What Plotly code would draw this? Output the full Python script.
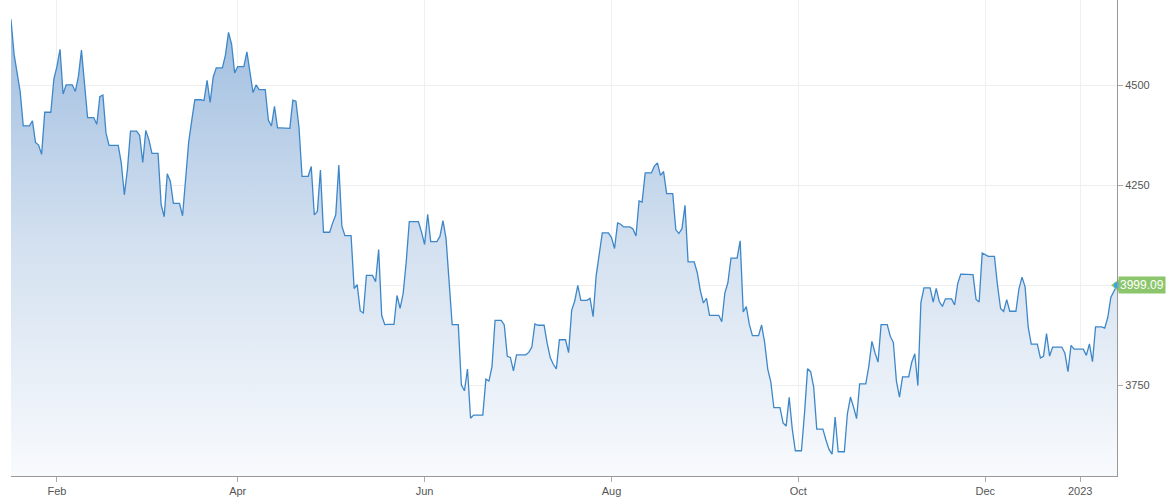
import pandas as pd
import plotly.graph_objects as go

# Trading-day closes
trade_dates = [
    "2022-01-14", "2022-01-18", "2022-01-19", "2022-01-20", "2022-01-21", "2022-01-24", "2022-01-25", "2022-01-26", "2022-01-27", "2022-01-28", "2022-01-31",
    "2022-02-01", "2022-02-02", "2022-02-03", "2022-02-04", "2022-02-07", "2022-02-08", "2022-02-09", "2022-02-10", "2022-02-11", "2022-02-14", "2022-02-15", "2022-02-16", "2022-02-17", "2022-02-18", "2022-02-22", "2022-02-23", "2022-02-24", "2022-02-25", "2022-02-28",
    "2022-03-01", "2022-03-02", "2022-03-03", "2022-03-04", "2022-03-07", "2022-03-08", "2022-03-09", "2022-03-10", "2022-03-11", "2022-03-14", "2022-03-15", "2022-03-16", "2022-03-17", "2022-03-18", "2022-03-21", "2022-03-22", "2022-03-23", "2022-03-24", "2022-03-25", "2022-03-28", "2022-03-29", "2022-03-30", "2022-03-31",
    "2022-04-01", "2022-04-04", "2022-04-05", "2022-04-06", "2022-04-07", "2022-04-08", "2022-04-11", "2022-04-12", "2022-04-13", "2022-04-14", "2022-04-18", "2022-04-19", "2022-04-20", "2022-04-21", "2022-04-22", "2022-04-25", "2022-04-26", "2022-04-27", "2022-04-28", "2022-04-29",
    "2022-05-02", "2022-05-03", "2022-05-04", "2022-05-05", "2022-05-06", "2022-05-09", "2022-05-10", "2022-05-11", "2022-05-12", "2022-05-13", "2022-05-16", "2022-05-17", "2022-05-18", "2022-05-19", "2022-05-20", "2022-05-23", "2022-05-24", "2022-05-25", "2022-05-26", "2022-05-27", "2022-05-31",
    "2022-06-01", "2022-06-02", "2022-06-03", "2022-06-06", "2022-06-07", "2022-06-08", "2022-06-09", "2022-06-10", "2022-06-13", "2022-06-14", "2022-06-15", "2022-06-16", "2022-06-17", "2022-06-21", "2022-06-22", "2022-06-23", "2022-06-24", "2022-06-27", "2022-06-28", "2022-06-29", "2022-06-30",
    "2022-07-01", "2022-07-05", "2022-07-06", "2022-07-07", "2022-07-08", "2022-07-11", "2022-07-12", "2022-07-13", "2022-07-14", "2022-07-15", "2022-07-18", "2022-07-19", "2022-07-20", "2022-07-21", "2022-07-22", "2022-07-25", "2022-07-26", "2022-07-27", "2022-07-28", "2022-07-29",
    "2022-08-01", "2022-08-02", "2022-08-03", "2022-08-04", "2022-08-05", "2022-08-08", "2022-08-09", "2022-08-10", "2022-08-11", "2022-08-12", "2022-08-15", "2022-08-16", "2022-08-17", "2022-08-18", "2022-08-19", "2022-08-22", "2022-08-23", "2022-08-24", "2022-08-25", "2022-08-26", "2022-08-29", "2022-08-30", "2022-08-31",
    "2022-09-01", "2022-09-02", "2022-09-06", "2022-09-07", "2022-09-08", "2022-09-09", "2022-09-12", "2022-09-13", "2022-09-14", "2022-09-15", "2022-09-16", "2022-09-19", "2022-09-20", "2022-09-21", "2022-09-22", "2022-09-23", "2022-09-26", "2022-09-27", "2022-09-28", "2022-09-29", "2022-09-30",
    "2022-10-03", "2022-10-04", "2022-10-05", "2022-10-06", "2022-10-07", "2022-10-10", "2022-10-11", "2022-10-12", "2022-10-13", "2022-10-14", "2022-10-17", "2022-10-18", "2022-10-19", "2022-10-20", "2022-10-21", "2022-10-24", "2022-10-25", "2022-10-26", "2022-10-27", "2022-10-28", "2022-10-31",
    "2022-11-01", "2022-11-02", "2022-11-03", "2022-11-04", "2022-11-07", "2022-11-08", "2022-11-09", "2022-11-10", "2022-11-11", "2022-11-14", "2022-11-15", "2022-11-16", "2022-11-17", "2022-11-18", "2022-11-21", "2022-11-22", "2022-11-23", "2022-11-25", "2022-11-28", "2022-11-29", "2022-11-30",
    "2022-12-01", "2022-12-02", "2022-12-05", "2022-12-06", "2022-12-07", "2022-12-08", "2022-12-09", "2022-12-12", "2022-12-13", "2022-12-14", "2022-12-15", "2022-12-16", "2022-12-19", "2022-12-20", "2022-12-21", "2022-12-22", "2022-12-23", "2022-12-27", "2022-12-28", "2022-12-29", "2022-12-30",
    "2023-01-03", "2023-01-04", "2023-01-05", "2023-01-06", "2023-01-09", "2023-01-10", "2023-01-11", "2023-01-12", "2023-01-13",
]
closes = [
    4662.85, 4577.11, 4532.76, 4482.73, 4397.94, 4410.13, 4356.45, 4349.93, 4326.51, 4431.85, 4515.55,
    4546.54, 4589.38, 4477.44, 4500.53, 4483.87, 4521.54, 4587.18, 4504.08, 4418.64, 4401.67, 4471.07, 4475.01, 4380.26, 4348.87, 4304.76, 4225.50, 4288.70, 4384.65, 4373.94,
    4306.26, 4386.54, 4363.49, 4328.87, 4201.09, 4170.70, 4277.88, 4259.52, 4204.31, 4173.11, 4262.45, 4357.86, 4411.67, 4463.12, 4461.18, 4511.61, 4456.24, 4520.16, 4543.06, 4575.52, 4631.60, 4602.45, 4530.41,
    4545.86, 4582.64, 4525.12, 4481.15, 4500.21, 4488.28, 4412.53, 4397.45, 4446.59, 4392.59, 4391.69, 4462.21, 4459.45, 4393.66, 4271.78, 4296.12, 4175.20, 4183.96, 4287.50, 4131.93,
    4155.38, 4175.48, 4300.17, 4146.87, 4123.34, 3991.24, 4001.05, 3935.18, 3930.08, 4023.89, 4008.01, 4088.85, 3923.68, 3900.79, 3901.36, 3973.75, 3941.48, 3978.73, 4057.84, 4158.24, 4132.15,
    4101.23, 4176.82, 4108.54, 4121.43, 4160.68, 4115.77, 4017.82, 3900.86, 3749.63, 3735.48, 3789.99, 3666.77, 3674.84, 3764.79, 3759.89, 3795.73, 3911.74, 3900.11, 3821.55, 3818.83, 3785.38,
    3825.33, 3831.39, 3845.08, 3902.62, 3899.38, 3854.43, 3818.80, 3801.78, 3790.38, 3863.16, 3830.85, 3936.69, 3959.90, 3998.95, 3961.63, 3966.84, 3921.05, 4023.61, 4072.43, 4130.29,
    4118.63, 4091.19, 4155.17, 4151.94, 4145.19, 4140.06, 4122.47, 4210.24, 4207.27, 4280.15, 4297.14, 4305.20, 4274.04, 4283.74, 4228.48, 4137.99, 4128.73, 4140.77, 4199.12, 4057.66, 4030.61, 3986.16, 3955.00,
    3966.85, 3924.26, 3908.19, 3979.87, 4006.18, 4067.36, 4110.41, 3932.69, 3946.01, 3901.35, 3873.33, 3899.89, 3855.93, 3789.93, 3757.99, 3693.23, 3655.04, 3647.29, 3719.04, 3640.47, 3585.62,
    3678.43, 3790.93, 3783.28, 3744.52, 3639.66, 3612.39, 3588.84, 3577.03, 3669.91, 3583.07, 3677.95, 3719.98, 3695.16, 3665.78, 3752.75, 3797.34, 3859.11, 3830.60, 3807.30, 3901.06, 3871.98,
    3856.10, 3759.69, 3719.89, 3770.55, 3806.80, 3828.11, 3748.57, 3956.37, 3992.93, 3957.25, 3991.73, 3958.79, 3946.56, 3965.34, 3949.94, 4003.58, 4027.26, 4026.12, 3963.94, 3957.63, 4080.11,
    4076.57, 4071.70, 3998.84, 3941.26, 3933.92, 3963.51, 3934.38, 3990.56, 4019.65, 3995.32, 3895.75, 3852.36, 3817.66, 3821.62, 3878.44, 3822.39, 3844.82, 3829.25, 3783.22, 3849.28, 3839.50,
    3824.14, 3852.97, 3808.10, 3895.08, 3892.09, 3919.25, 3969.61, 3983.17, 3999.09,
]

tick_dates = ["2022-02-01", "2022-04-01", "2022-06-01", "2022-08-01", "2022-10-01", "2022-12-01", "2023-01-01"]
tick_labels = ["Feb", "Apr", "Jun", "Aug", "Oct", "Dec", "2023"]
y_ticks = [3750, 4000, 4250, 4500]
# the 4000 label sits under the last-value badge in the reference
y_tick_labels = ["3750", "", "4250", "4500"]

# The chart is sampled on calendar days; non-trading days carry the prior close
s = pd.Series(closes, index=pd.to_datetime(trade_dates))
daily = s.reindex(pd.date_range(s.index[0], s.index[-1], freq="D")).ffill()

y_min, y_max = 3522.5, 4712.5
line_color = "#3d87c9"
green = "#8cc66c"
font_family = "Liberation Sans, Arial, sans-serif"

fig = go.Figure()
fig.add_trace(go.Scatter(
    x=daily.index, y=daily.values, mode="lines",
    line=dict(color=line_color, width=1.3),
    fill="tozeroy",
    fillgradient=dict(type="vertical", start=y_min, stop=4660,
                      colorscale=[[0, "rgb(248,250,253)"], [0.5, "rgb(212,225,240)"], [1, "rgb(160,190,224)"]]),
    hoverinfo="x+y", showlegend=False,
))
last_x = daily.index[-1]
last_y = daily.values[-1]
fig.add_trace(go.Scatter(
    x=[last_x], y=[last_y], mode="markers",
    marker=dict(symbol="triangle-left", size=12, color=green),
    cliponaxis=False, showlegend=False, hoverinfo="skip",
))
fig.add_trace(go.Scatter(
    x=[last_x], y=[last_y], mode="markers",
    marker=dict(symbol="circle", size=6, color="#29aaf0"),
    cliponaxis=False, showlegend=False, hoverinfo="skip",
))
fig.add_annotation(
    x=1, xref="paper", xanchor="left", xshift=1,
    y=last_y, yref="y", yanchor="middle",
    text=f"{last_y:.2f}", showarrow=False,
    font=dict(family=font_family, size=12, color="white"),
    bgcolor=green, borderpad=1,
)

fig.update_layout(
    width=1167, height=503,
    margin=dict(l=11, r=50, t=0, b=27),
    paper_bgcolor="white", plot_bgcolor="white",
    font=dict(family=font_family, size=11, color="#555555"),
    xaxis=dict(
        type="date", range=["2022-01-17", "2023-01-13"],
        tickvals=tick_dates, ticktext=tick_labels,
        ticks="outside", ticklen=5, tickcolor="#aaaaaa",
        showline=True, linecolor="#999999", linewidth=1,
        showgrid=True, gridcolor="#f0f0f0", zeroline=False,
        tickfont=dict(size=11, color="#555555"),
    ),
    yaxis=dict(
        side="right", range=[y_min, y_max],
        tickvals=y_ticks, ticktext=y_tick_labels,
        ticks="outside", ticklen=5, tickcolor="#aaaaaa",
        showline=True, linecolor="#999999", linewidth=1,
        showgrid=True, gridcolor="#eeeeee", zeroline=False,
        tickfont=dict(size=11, color="#555555"),
    ),
)

fig.write_html("out.html", config={"displayModeBar": False},
               post_script="document.body.style.margin='0';")
